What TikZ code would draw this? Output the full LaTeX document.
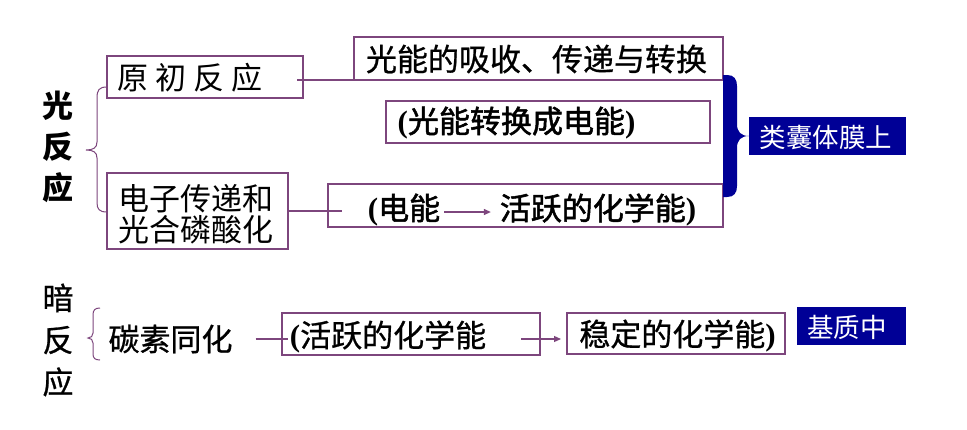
\documentclass[tikz,border=0pt]{standalone}
\usepackage{fontspec}
\setmainfont{Noto Sans CJK SC}
\newfontfamily\cjkb[FakeBold=1.6]{Noto Sans CJK SC}
\newfontfamily\cjkm[FakeBold=0.8]{Noto Sans CJK SC}
\newfontfamily\tms{Liberation Serif}
\usetikzlibrary{arrows.meta}
\definecolor{frame}{RGB}{125,70,125}
\definecolor{navy}{RGB}{0,0,150}
\newcommand\fsz{\fontsize{31pt}{36pt}\selectfont}
\newcommand\fsm{\fontsize{26.5pt}{30pt}\selectfont}
\newcommand\lp{{\tms\bfseries (}}
\newcommand\rp{{\tms\bfseries )}}
\tikzset{
 frm/.style={draw=frame,line width=1.2pt,inner sep=0pt,outer sep=0pt},
 navybox/.style={fill=navy,inner sep=0pt,outer sep=0pt},
 txt/.style={inner sep=0pt,outer sep=0pt,font=\fsz},
 wtxt/.style={inner sep=0pt,outer sep=0pt,font=\fsm,text=white},
 conn/.style={draw=frame,line width=1.2pt},
 arr/.style={conn,-{Triangle[length=7pt,width=6pt]}},
 lbrace/.style={draw=frame,line width=1pt},
}
\begin{document}
\begin{tikzpicture}[x=1pt,y=-1pt]
\useasboundingbox[fill=white] (0,0) rectangle (967,429);

% side titles
\node[txt,align=center,font=\fontsize{31pt}{41pt}\selectfont\bfseries] (g1) at (58,147) {光\\反\\应};
\node[txt,align=center,font=\fontsize{31pt}{42pt}\selectfont\cjkm] (g2) at (58,340) {暗\\反\\应};

% boxes
\node[frm,minimum width=196pt,minimum height=42pt] (b1) at (205,77) {};
\node[txt] (t1) at (190,78) {原\hspace{7pt}初\hspace{7pt}反\hspace{7pt}应};

\node[frm,minimum width=369pt,minimum height=43pt] (b2) at (538.5,58.5) {};
\node[txt,font=\fsz\cjkm] (t2) at (536.5,59) {光能的吸收、传递与转换};

\node[frm,minimum width=324pt,minimum height=42pt] (b3) at (548,122) {};
\node[txt,font=\fsz\cjkb] (t3) at (516.5,123) {\lp 光能转换成电能\rp};

\node[frm,minimum width=181pt,minimum height=76pt] (b4) at (197.5,211) {};
\node[txt,align=center,font=\fontsize{31pt}{31pt}\selectfont] (t4) at (196,214) {电子传递和\\光合磷酸化};

\node[frm,minimum width=395pt,minimum height=43pt] (b5) at (525.5,205.5) {};
\node[txt,font=\fsz\cjkb] (t5a) at (404,210) {\lp 电能};
\node[txt,font=\fsz\cjkb] (t5b) at (598,210) {活跃的化学能\rp};

\node[navybox,minimum width=157pt,minimum height=38pt] (b6) at (827.5,136) {};
\node[wtxt] (t6) at (826,137) {类囊体膜上};

\node[txt,font=\fsz\cjkm] (t7) at (170.5,339) {碳素同化};

\node[frm,minimum width=258pt,minimum height=42pt] (b8) at (411,334) {};
\node[txt,font=\fsz\cjkm] (t8) at (388,337) {\lp 活跃的化学能};

\node[frm,minimum width=218pt,minimum height=41pt] (b9) at (676,333.5) {};
\node[txt,font=\fsz\cjkm] (t9) at (677.5,336) {稳定的化学能\rp};

\node[navybox,minimum width=109pt,minimum height=38pt] (b10) at (851.5,326) {};
\node[wtxt] (t10) at (847,327) {基质中};

% connectors
\draw[conn] ([xshift=-6pt]b1.east |- b2.south west) -- (b2.south west);
\draw[conn] (b4.east) -- ([xshift=14pt]b4.east -| b5.west);
\draw[arr] ([xshift=4pt]t5a.east |- 0,212) -- ([xshift=-9pt]t5b.west |- 0,212);
\draw[conn] ([xshift=23pt]t7.east) -- ([xshift=6pt]t7.east -| b8.west);
\draw[arr] ([xshift=-19pt]b8.east |- t7.east) -- ([xshift=-6pt]b9.west |- t7.east);

% thin braces
\draw[lbrace] (107,87) .. controls (99,87) and (97,90) .. (97,98) -- (97,142)
  .. controls (97,148) and (93,150) .. (86,150) .. controls (93,150) and (97,152) .. (97,158)
  -- (97,202) .. controls (97,209) and (99,212) .. (107,212);
\draw[lbrace] (100,308) .. controls (95,308) and (93,310) .. (93,315) -- (93,333)
  .. controls (93,336) and (91,338) .. (88,338) .. controls (91,338) and (93,340) .. (93,343)
  -- (93,354) .. controls (93,358) and (95,360) .. (100,360);

% blue brace
\fill[navy] (723,75) -- (727,75) .. controls (734,75) and (737,79) .. (737,86) -- (737,124)
  .. controls (737,132) and (741,136) .. (749,136) .. controls (741,136) and (737,140) .. (737,148)
  -- (737,186) .. controls (737,193) and (734,197) .. (727,197) -- (723,197) -- cycle;
\end{tikzpicture}
\end{document}
